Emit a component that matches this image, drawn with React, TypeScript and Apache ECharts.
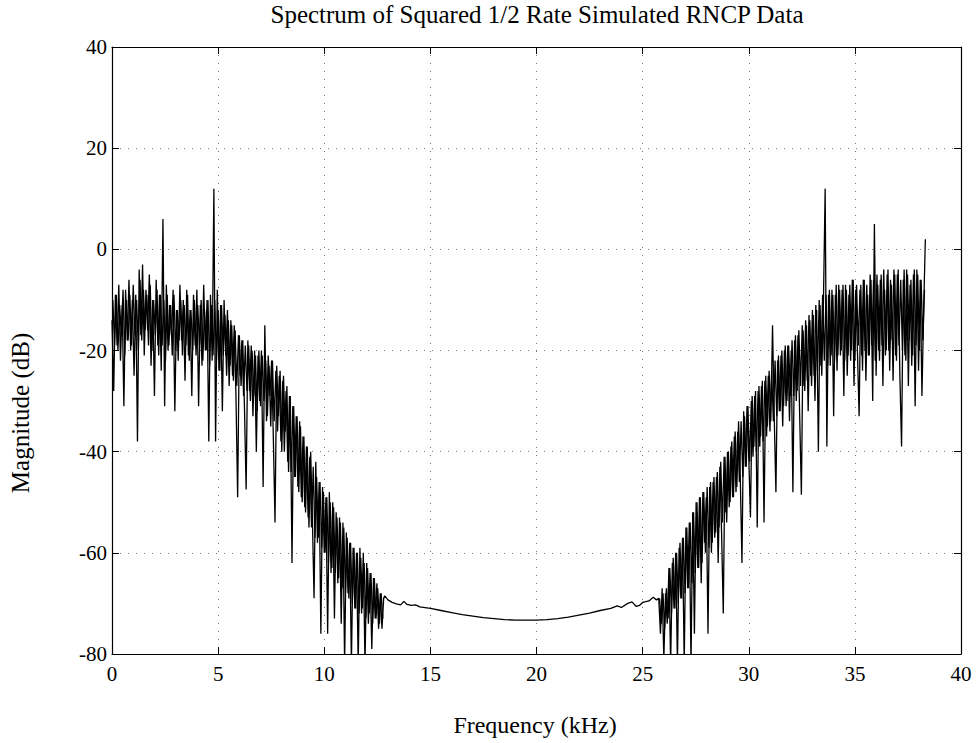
import React, { useEffect, useRef } from "react";
import * as echarts from "echarts";

// Frequency bins (kHz)
const bandStep = 0.08;
const lowBandStart = 0;
const lowCoreStart = 0.04;
const highBandStart = 25.76;
const highCoreStart = 25.8;

// Magnitude (dB), 0 .. 12.8 kHz (even bins)
const lowBand = [
  -14, -28, -9, -19, -7, -22, -11, -31, -8, -18,
  -6, -20, -10, -25, -9, -38, -4, -17, -3, -21,
  -8, -16, -5, -23, -10, -29, -6, -19, -9, -24,
  6, -31, -7, -20, -11, -17, -8, -32, -12, -22,
  -7, -18, -10, -26, -8, -21, -12, -29, -9, -19,
  -8, -31, -11, -23, -7, -20, -10, -38, -9, -22,
  12, -38, -8, -24, -11, -32, -10, -21, -12, -27,
  -14, -25, -15, -29, -49, -17, -27, -18, -31, -47.5,
  -18, -28, -19, -33, -20, -40, -21, -30, -20, -47,
  -15, -34, -21, -29, -22, -37, -54, -23, -33, -24,
  -40, -25, -36, -27, -44, -29, -62, -31, -45, -33,
  -48, -35, -50, -37, -52, -39, -55, -40, -53, -69,
  -42, -58, -46, -76, -47, -60, -49, -76, -48, -64,
  -50, -73, -52, -66, -53, -74, -54, -82, -56, -68,
  -58, -82, -59, -71, -60, -82, -59, -72, -60, -82,
  -62, -74, -64, -79, -65, -73, -66, -75, -68, -75,
  -69,
];

// Magnitude (dB), 0.04 .. 12.76 kHz (odd bins)
const lowCore = [
  -10, -19, -9, -20, -11, -17, -8, -21, -10, -18,
  -9, -19, -7, -17, -10, -20, -6, -18, -8, -16,
  -9, -19, -7, -20, -10, -17, -8, -21, -9, -19,
  -10, -22, -9, -19, -11, -21, -9, -20, -12, -18,
  -10, -21, -11, -19, -9, -22, -12, -20, -10, -21,
  -11, -19, -10, -22, -12, -20, -10, -23, -11, -21,
  -10, -22, -12, -24, -11, -21, -13, -25, -14, -23,
  -15, -26, -16, -27, -17, -25, -18, -29, -19, -28,
  -19, -30, -20, -29, -21, -32, -20, -31, -21, -30,
  -22, -33, -23, -35, -22, -34, -24, -36, -25, -38,
  -26, -40, -28, -42, -29, -44, -31, -45, -33, -47,
  -34, -49, -37, -51, -39, -53, -41, -55, -43, -57,
  -45, -57, -46, -59, -48, -60, -49, -62, -50, -63,
  -51, -64, -53, -65, -54, -67, -55, -68, -57, -69,
  -58, -70, -59, -71, -60, -72, -61, -71, -62, -73,
  -63, -72, -64, -74, -65, -73, -67, -74, -68, -73,
];

// Smooth middle section
const midFreqs = [
  12.85, 13.0, 13.2, 13.4, 13.6, 13.75, 13.9, 14.1, 14.3, 14.5,
  15.0, 15.5, 16.0, 16.5, 17.0, 17.5, 18.0, 18.5, 19.0, 19.5,
  20.0, 20.5, 21.0, 21.5, 22.0, 22.5, 23.0, 23.5, 23.8, 24.0,
  24.3, 24.5, 24.7, 24.85, 25.0, 25.3, 25.5, 25.65,
];
const midValues = [
  -68.5, -69.3, -69.8, -70.1, -70.3, -69.6, -70.2, -70.4, -70.3, -70.7,
  -71.0, -71.4, -71.8, -72.2, -72.5, -72.8, -73.0, -73.2, -73.3, -73.3,
  -73.3, -73.2, -73.0, -72.7, -72.3, -71.9, -71.4, -71.0, -70.5, -70.8,
  -70.0, -69.7, -70.6, -70.4, -69.8, -69.5, -68.8, -69.3,
];

// Magnitude (dB), 25.76 .. 38.32 kHz (even bins)
const highBand = [
  -69, -76, -67, -81, -68, -74, -63, -82, -62, -71,
  -60, -82, -59, -69, -57, -82, -55, -67, -54, -82,
  -52, -76, -50, -63, -49, -66, -48, -58, -49, -76,
  -47, -60, -46, -57, -45, -62, -43, -56, -72, -41,
  -54, -40, -50, -38, -49, -36, -47, -34, -45, -62,
  -32, -43, -31, -41, -53, -29, -39, -28, -55, -27,
  -37, -26, -54, -25, -35, -24, -34, -15, -33, -48,
  -22, -32, -21, -35, -20, -31, -19, -34, -20, -48,
  -18, -30, -17, -33, -48.5, -16, -28, -15, -32, -14,
  -27, -13, -30, -12, -40, -11, -25, -10, 12, -39,
  -9, -23, -8, -33, -9, -24, -7, -21, -8, -29,
  -7, -25, -9, -22, -6, -27, -8, -20, -33, -7,
  -24, -6, -26, -9, -21, -6, -30, 5, -25, -7,
  -22, -5, -27, -8, -20, -4, -24, -7, -26, -5,
  -22, -4, -25, -39, -6, -21, -4, -27, -7, -23,
  -5, -31, -4, -24, -6, -29, -12, 2,
];

// Magnitude (dB), 25.80 .. 38.28 kHz (odd bins)
const highCore = [
  -69, -74, -68, -75, -67, -73, -63, -72, -61, -71,
  -60, -70, -58, -69, -57, -68, -55, -67, -54, -66,
  -52, -64, -50, -63, -49, -62, -48, -60, -47, -59,
  -46, -58, -45, -56, -44, -55, -42, -54, -41, -52,
  -40, -51, -39, -49, -37, -48, -36, -46, -34, -45,
  -33, -43, -31, -42, -30, -41, -29, -40, -28, -39,
  -27, -38, -26, -37, -25, -36, -24, -34, -22, -33,
  -21, -32, -20, -31, -19, -30, -19, -29, -18, -29,
  -17, -28, -16, -27, -15, -27, -14, -26, -13, -25,
  -12, -25, -11, -24, -10, -23, -9, -22, -9, -23,
  -8, -21, -9, -22, -7, -21, -8, -20, -7, -22,
  -8, -21, -7, -20, -6, -22, -7, -19, -8, -21,
  -6, -20, -7, -21, -5, -19, -6, -22, -5, -20,
  -6, -19, -4, -21, -5, -20, -6, -18, -4, -21,
  -5, -19, -6, -20, -4, -22, -5, -18, -6, -21,
  -4, -19, -5, -20, -6, -18, -8,
];

const xTicks = { min: 0, max: 40, interval: 5 };
const yTicks = { min: -80, max: 40, interval: 20 };

const FONT = "Liberation Serif";

const binned = (vals: number[], start: number) =>
  vals.map((v, i) => [+(start + i * bandStep).toFixed(2), v]);

export default function App() {
  const ref = useRef<HTMLDivElement>(null);
  useEffect(() => {
    if (!ref.current) return;
    const chart = echarts.init(ref.current, undefined, { renderer: "svg" });
    const mainData: number[][] = [
      ...binned(lowBand, lowBandStart),
      ...midFreqs.map((f, i) => [f, midValues[i]]),
      ...binned(highBand, highBandStart),
    ];
    const lineStyle = { color: "#000", width: 1.3 };

    const gridLine = { show: true, lineStyle: { color: "#777", type: [1, 7] as any, width: 1 } };
    const axisLine = { show: true, onZero: false, lineStyle: { color: "#000", width: 1.2 } };
    const tick = { show: true, inside: true, length: 7, lineStyle: { color: "#000" } };
    const label = { color: "#000", fontFamily: FONT, fontSize: 21 };

    chart.setOption({
      animation: false,
      backgroundColor: "#fff",
      grid: { left: 112, right: 17, top: 47, bottom: 89, containLabel: false, outerBoundsMode: "none" },
      xAxis: [
        { type: "value", position: "bottom", ...xTicks, axisLine, axisTick: tick, splitLine: gridLine,
          axisLabel: { ...label, margin: 9 } },
        { type: "value", position: "top", ...xTicks, axisLine, axisTick: tick, splitLine: { show: false },
          axisLabel: { show: false } },
      ],
      yAxis: [
        { type: "value", position: "left", ...yTicks, axisLine, axisTick: tick, splitLine: gridLine,
          axisLabel: { ...label, margin: 5 } },
        { type: "value", position: "right", ...yTicks, axisLine, axisTick: tick, splitLine: { show: false },
          axisLabel: { show: false } },
      ],
      graphic: [
        { type: "text", x: 537, y: 14, style: { text: "Spectrum of Squared 1/2 Rate Simulated RNCP Data",
          fontFamily: FONT, fontSize: 25, fill: "#000", align: "center", verticalAlign: "middle" } },
        { type: "text", x: 535, y: 725, style: { text: "Frequency (kHz)",
          fontFamily: FONT, fontSize: 24, fill: "#000", align: "center", verticalAlign: "middle" } },
        { type: "text", x: 20, y: 413, rotation: Math.PI / 2, style: { text: "Magnitude (dB)",
          fontFamily: FONT, fontSize: 25, fill: "#000", align: "center", verticalAlign: "middle" } },
      ],
      series: [
        { type: "line", data: binned(lowCore, lowCoreStart), showSymbol: false, lineStyle, clip: true },
        { type: "line", data: binned(highCore, highCoreStart), showSymbol: false, lineStyle, clip: true },
        { type: "line", data: mainData, showSymbol: false, lineStyle, clip: true },
      ],
    });
    return () => chart.dispose();
  }, []);
  return <div ref={ref} style={{ width: 978, height: 743, position: "absolute", left: 0, top: 0 }} />;
}
